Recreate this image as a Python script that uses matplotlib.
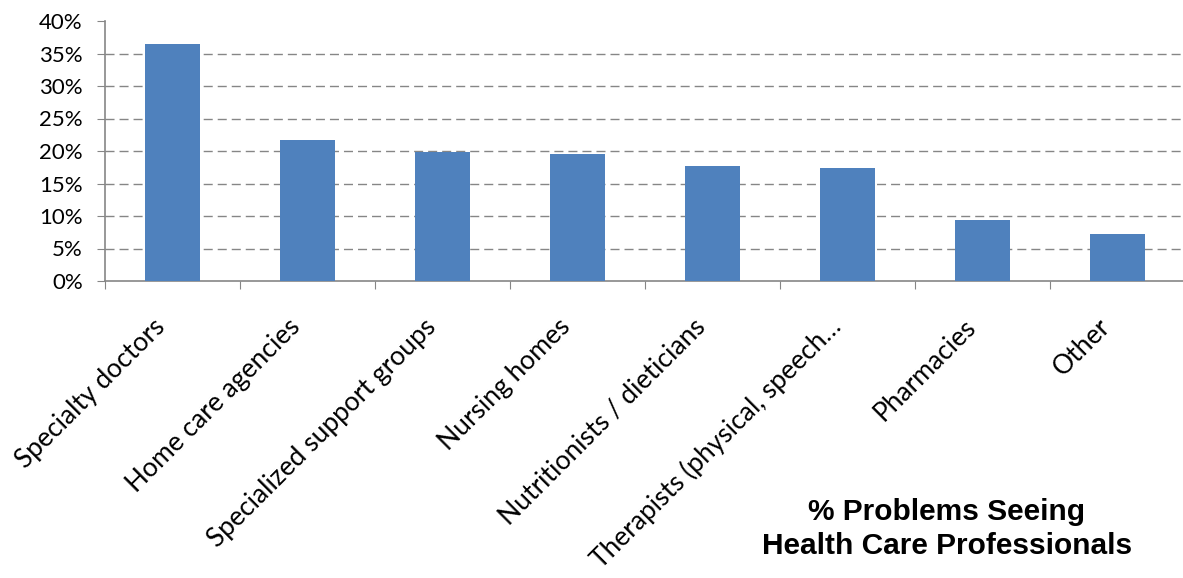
import numpy as np
import matplotlib
matplotlib.use("Agg")
import matplotlib.pyplot as plt
from matplotlib.ticker import FixedLocator, PercentFormatter

# share of respondents reporting problems, by type of provider
categories = ["Specialty doctors", "Home care agencies", "Specialized support groups",
              "Nursing homes", "Nutritionists / dieticians",
              "Therapists (physical, speech\u2026", "Pharmacies", "Other"]
percent = [36.5, 21.7, 19.8, 19.5, 17.7, 17.4, 9.4, 7.2]
y_ticks = [0, 5, 10, 15, 20, 25, 30, 35, 40]

bar_color = "#4F81BD"
axis_color = "#868686"

plt.rcParams["font.family"] = ["Lato", "DejaVu Sans"]

fig = plt.figure(figsize=(11.83, 5.78), dpi=100)
ax = fig.add_axes([105 / 1183, 1 - 281 / 578, 1080 / 1183, 260 / 578])

x = np.arange(len(categories))
ax.bar(x, percent, width=0.41, color=bar_color, zorder=3)

ax.set_xlim(-0.5, len(categories) - 0.5)
ax.set_ylim(0, 40)

# y axis: percent ticks, dashed grid except at the top
ax.set_yticks(y_ticks)
ax.yaxis.set_major_formatter(PercentFormatter(decimals=0))
ax.yaxis.grid(True, color=axis_color, linewidth=1.0, dashes=(6.5, 3.6), zorder=0)
gl = ax.get_ygridlines()
gl[0].set_visible(False)
gl[-1].set_visible(False)
ax.tick_params(axis="y", which="major", length=6, color=axis_color,
               labelsize=16, pad=10, labelcolor="black")

# x axis: tick marks between categories, labels at centers
ax.xaxis.set_major_locator(FixedLocator(np.arange(len(categories) + 1) - 0.5))
ax.xaxis.set_minor_locator(FixedLocator(x - 0.08))
ax.set_xticklabels([], minor=False)
ax.set_xticklabels(categories, minor=True, rotation=45, ha="right", va="center",
                   rotation_mode="anchor", fontsize=19)
ax.tick_params(axis="x", which="major", length=6, color=axis_color)
ax.tick_params(axis="x", which="minor", length=0, pad=30)

for side in ["top", "right"]:
    ax.spines[side].set_visible(False)
for side in ["left", "bottom"]:
    ax.spines[side].set_color(axis_color)
    ax.spines[side].set_linewidth(1.2)

fig.text(947 / 1183, 1 - 529 / 578, "% Problems Seeing\nHealth Care Professionals",
         ha="center", va="center", fontsize=21.5, fontweight="bold",
         family="Liberation Sans", linespacing=1.25)

fig.savefig("out.png", dpi=100)
